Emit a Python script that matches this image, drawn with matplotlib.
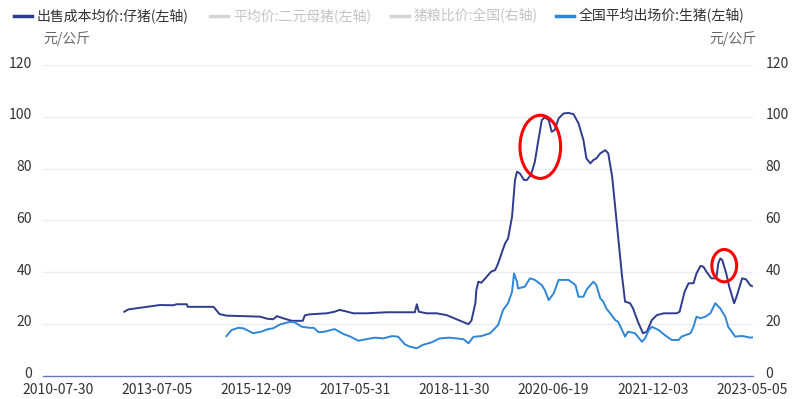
import matplotlib
matplotlib.use("Agg")
import matplotlib.pyplot as plt
from matplotlib.lines import Line2D
from matplotlib.patches import Ellipse
from matplotlib.transforms import ScaledTranslation

plt.rcParams["font.family"] = ["Noto Sans CJK SC", "DejaVu Sans"]

# category axis: 2010-07-30 .. 2023-05-05, index positions of the dates
tick_idx = [0, 100, 200, 300, 400, 500, 600, 700]
tick_labels = ["2010-07-30", "2013-07-05", "2015-12-09", "2017-05-31",
               "2018-11-30", "2020-06-19", "2021-12-03", "2023-05-05"]

# 出售成本均价:仔猪 (元/公斤)
piglet_idx = [67, 71, 86, 103, 116, 120, 130, 131, 157, 163, 170, 204, 211, 217,
              221, 227, 236, 247, 249, 254, 271, 279, 284, 290, 298, 311, 332, 360,
              362, 364, 372, 382, 392, 414, 417, 421, 422, 424, 427, 431, 434, 437,
              441, 444, 448, 451, 454, 458, 461, 463, 466, 470, 473, 477, 481, 484,
              488, 491, 495, 498, 501, 505, 510, 515, 520, 525, 530, 533, 537, 540,
              543, 547, 552, 555, 559, 564, 569, 572, 577, 580, 585, 590, 594, 599,
              604, 611, 624, 627, 632, 636, 641, 644, 648, 651, 654, 659, 664, 666,
              668, 670, 674, 677, 682, 685, 690, 694, 698, 700]
piglet_val = [24.7, 25.6, 26.4, 27.3, 27.2, 27.6, 27.6, 26.6, 26.6, 23.8, 23.2, 22.8, 22.0, 21.8,
              23.0, 22.2, 21.2, 21.2, 23.3, 23.7, 24.1, 24.7, 25.4, 24.9, 24.1, 24.1, 24.5, 24.5,
              27.6, 24.7, 24.1, 24.1, 23.4, 19.9, 21.2, 28.0, 33.0, 36.3, 35.9, 37.6, 38.9, 40.2,
              40.8, 43.4, 47.9, 51.1, 53.0, 61.4, 75.6, 78.8, 78.1, 75.6, 75.6, 77.5, 82.6, 89.7,
              98.7, 99.8, 98.7, 94.2, 94.9, 99.4, 101.3, 101.5, 101.0, 97.5, 91.0, 83.9, 82.0, 83.3,
              83.9, 85.9, 87.1, 85.9, 76.8, 57.5, 38.2, 28.6, 28.0, 26.0, 20.8, 16.4, 17.0, 21.5,
              23.4, 24.1, 24.1, 24.7, 32.4, 35.7, 35.7, 39.5, 42.4, 42.1, 40.2, 37.6, 37.6, 43.4,
              45.3, 44.7, 39.5, 34.4, 28.0, 31.2, 37.6, 37.2, 35.0, 34.6]

# 全国平均出场价:生猪 (元/公斤)
hog_idx = [170, 175, 182, 187, 197, 205, 212, 217, 224, 234, 239, 246, 254, 258,
           263, 269, 279, 288, 295, 303, 311, 320, 328, 337, 343, 350, 355, 362,
           368, 377, 385, 395, 409, 414, 419, 427, 436, 444, 449, 454, 458, 460,
           463, 464, 471, 476, 481, 488, 491, 495, 500, 505, 515, 522, 525, 530,
           533, 537, 540, 543, 547, 550, 553, 557, 562, 565, 569, 572, 575, 582,
           589, 592, 596, 599, 606, 612, 619, 626, 629, 638, 641, 644, 648, 653,
           658, 663, 668, 673, 676, 683, 688, 691, 698, 700]
hog_val = [15.3, 17.6, 18.5, 18.3, 16.4, 17.0, 18.0, 18.3, 19.8, 20.8, 20.6, 18.9, 18.5, 18.5,
           16.8, 17.0, 18.0, 16.1, 15.1, 13.5, 14.1, 14.7, 14.4, 15.3, 15.1, 12.1, 11.2, 10.6,
           11.9, 12.9, 14.4, 14.7, 14.1, 12.5, 15.0, 15.3, 16.4, 19.6, 25.4, 28.0, 32.4, 39.5,
           36.3, 33.7, 34.4, 37.6, 37.0, 35.0, 33.1, 29.2, 31.8, 37.0, 37.0, 35.0, 30.5, 30.5,
           33.1, 35.0, 36.3, 35.0, 29.9, 28.6, 26.0, 24.1, 21.5, 20.8, 17.6, 15.1, 17.0, 16.4,
           13.1, 14.4, 17.6, 18.9, 17.6, 15.7, 13.8, 13.8, 15.1, 16.4, 18.9, 22.8, 22.2, 22.8,
           24.1, 28.0, 26.0, 22.8, 18.9, 15.1, 15.3, 15.3, 14.7, 14.8]

legend_items = [
    ("出售成本均价:仔猪(左轴)", "#2f3b8c", "#333333", 14),
    ("平均价:二元母猪(左轴)", "#d4d4d4", "#c4c4c4", 210),
    ("猪粮比价:全国(右轴)", "#d4d4d4", "#c4c4c4", 391),
    ("全国平均出场价:生猪(左轴)", "#2f86d6", "#333333", 556),
]

W, H = 800, 399
fig = plt.figure(figsize=(W / 100, H / 100), dpi=100)
ax = fig.add_axes([43 / W, (H - 375.7) / H, 710 / W, (375.7 - 65) / H])

yticks = [0, 20, 40, 60, 80, 100, 120]
ax.set_ylim(0, 120)
ax.set_xlim(-15, 701)
for v in yticks[1:]:
    ax.axhline(v, color="#ebebf3", lw=1, zorder=0)

ax.plot(piglet_idx, piglet_val, color="#2f3b8c", lw=1.4, zorder=3)
ax.plot(hog_idx, hog_val, color="#2f86d6", lw=1.4, zorder=3)

for s in ["top", "right", "left"]:
    ax.spines[s].set_visible(False)
ax.spines["bottom"].set_color("#6676b8")
ax.spines["bottom"].set_linewidth(1)

ax.set_yticks(yticks)
ax.set_xticks(tick_idx)
ax.set_xticklabels(tick_labels)
ax.tick_params(axis="both", length=0, labelsize=10, labelcolor="#333333")
ax.tick_params(axis="y", pad=8)
ax.tick_params(axis="x", pad=5)

ax2 = ax.twinx()
ax2.set_ylim(0, 120)
ax2.set_yticks(yticks)
ax2.tick_params(axis="y", length=0, labelsize=10, labelcolor="#333333", pad=9)
for s in ["top", "right", "left", "bottom"]:
    ax2.spines[s].set_visible(False)

# nudge y tick labels up a little, like the reference
up = ScaledTranslation(0, 3 / 100, fig.dpi_scale_trans)
for lab in ax.get_yticklabels() + ax2.get_yticklabels():
    lab.set_transform(lab.get_transform() + up)

# red annotation circles
ax.add_patch(Ellipse((486.5, 88.4), 41, 24.4, fill=False, edgecolor="#ff0000", lw=2.2, zorder=5))
ax.add_patch(Ellipse((672, 42.5), 25, 12.5, fill=False, edgecolor="#ff0000", lw=2.2, zorder=5))

# legend
ly = 1 - 16 / H
for label, mcol, tcol, x0 in legend_items:
    fig.add_artist(Line2D([x0 / W, (x0 + 18) / W], [ly, ly], color=mcol, lw=2.5,
                          transform=fig.transFigure))
    fig.text((x0 + 23) / W, ly, label, color=tcol, fontsize=10, va="center", ha="left")

fig.text(43 / W, 1 - 39 / H, "元/公斤", color="#666666", fontsize=10, va="center", ha="left")
fig.text(756 / W, 1 - 39 / H, "元/公斤", color="#666666", fontsize=10, va="center", ha="right")

fig.savefig("out.png", dpi=100)
